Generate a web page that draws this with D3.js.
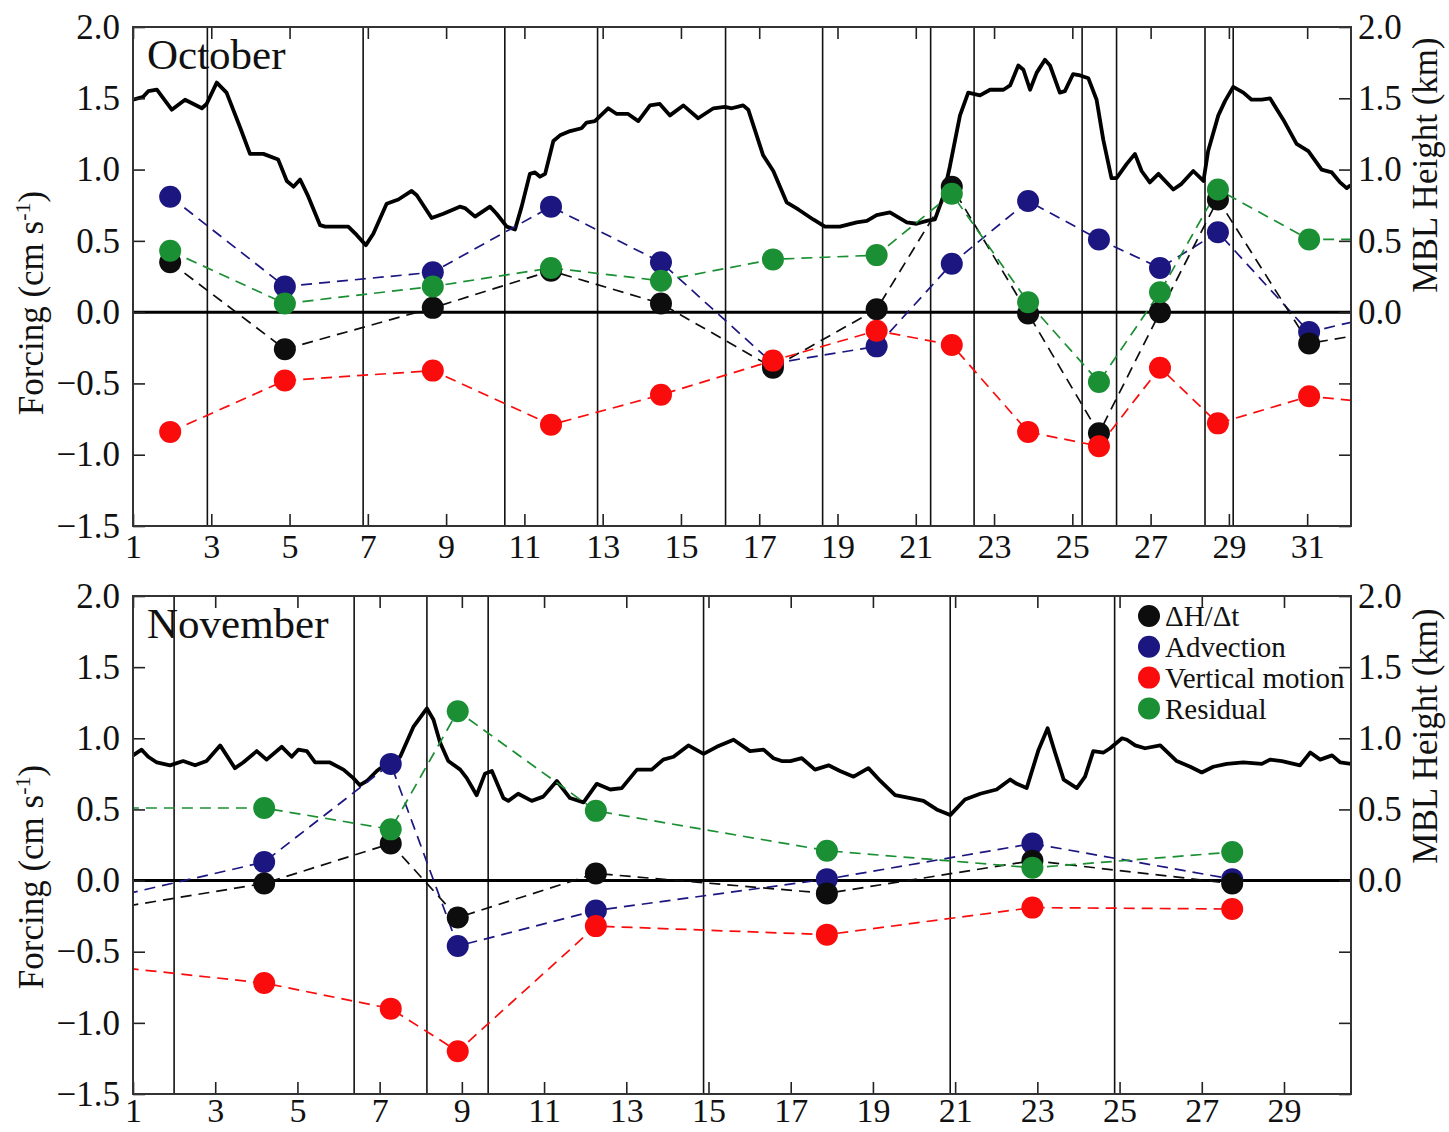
<!DOCTYPE html>
<html><head><meta charset="utf-8">
<script src="https://cdn.jsdelivr.net/npm/d3@7"></script>
<style>
body{margin:0;background:#fff;}
svg{display:block;}
text{font-family:"Liberation Serif","Times New Roman",serif;fill:#111;}
</style>
</head><body>
<svg id="chart" width="1449" height="1132"></svg>
<script>
// ---------- DATA ----------
const seriesNames = ["ΔH/Δt", "Advection", "Vertical motion", "Residual"];
const seriesColors = ["#0d0d0d", "#1b1680", "#fa0c0c", "#1a8f33"];

// October forcing (cm s-1), at mid-points between fronts
const octDays       = [1.95, 4.88, 8.66, 11.68, 14.49, 17.35, 20.00, 21.92, 23.87, 25.68, 27.24, 28.72, 31.05, 34.00];
const octDHDt       = [0.35, -0.26, 0.03, 0.29, 0.06, -0.39, 0.02, 0.88, -0.01, -0.85, 0.00, 0.79, -0.22, -0.08];
const octAdvection  = [0.81, 0.18, 0.28, 0.74, 0.35, -0.36, -0.24, 0.34, 0.78, 0.51, 0.31, 0.56, -0.14, 0.05];
const octVertical   = [-0.84, -0.48, -0.41, -0.79, -0.58, -0.34, -0.13, -0.23, -0.84, -0.94, -0.39, -0.78, -0.59, -0.67];
const octResidual   = [0.43, 0.06, 0.18, 0.31, 0.22, 0.37, 0.40, 0.83, 0.07, -0.49, 0.14, 0.86, 0.51, 0.51];
const octFronts     = [2.90, 6.88, 10.50, 12.87, 16.14, 18.62, 21.38, 22.49, 25.25, 26.13, 28.39, 29.11];
const octMblDays = [1.00,1.26,1.39,1.61,1.99,2.33,2.76,2.88,3.14,3.39,
  3.73,3.99,4.33,4.71,4.93,5.10,5.27,5.48,5.78,5.91,
  6.50,6.72,6.95,7.14,7.48,7.78,8.12,8.25,8.63,8.93,
  9.35,9.48,9.74,10.12,10.29,10.55,10.76,10.93,11.14,11.27,
  11.40,11.53,11.74,11.91,12.17,12.46,12.59,12.80,13.14,13.36,
  13.65,13.91,14.21,14.46,14.72,15.06,15.44,15.83,16.12,16.30,
  16.59,16.72,17.10,17.36,17.70,18.00,18.38,18.68,19.06,19.49,
  19.75,20.00,20.34,20.77,21.02,21.28,21.49,21.70,21.87,22.13,
  22.34,22.64,22.90,23.24,23.41,23.62,23.75,23.92,24.09,24.30,
  24.43,24.68,24.81,25.02,25.20,25.41,25.62,25.79,26.00,26.13,
  26.39,26.60,26.77,26.98,27.20,27.58,27.79,28.09,28.35,28.47,
  28.73,28.90,29.11,29.37,29.58,29.84,30.05,30.39,30.73,31.03,
  31.37,31.63,31.84,32.01,32.11];
const octMblHeight = [1.49,1.51,1.55,1.56,1.42,1.49,1.43,1.46,1.61,1.54,
  1.30,1.11,1.11,1.07,0.92,0.88,0.93,0.81,0.61,0.60,
  0.60,0.54,0.47,0.55,0.76,0.79,0.85,0.82,0.66,0.69,
  0.74,0.73,0.67,0.74,0.69,0.60,0.58,0.74,0.97,0.98,
  0.95,0.97,1.20,1.24,1.27,1.29,1.33,1.34,1.43,1.39,
  1.39,1.34,1.45,1.46,1.38,1.45,1.36,1.43,1.44,1.43,
  1.45,1.42,1.10,0.99,0.77,0.72,0.65,0.60,0.60,0.63,
  0.64,0.68,0.70,0.63,0.62,0.64,0.65,0.81,1.02,1.38,
  1.54,1.52,1.56,1.56,1.59,1.73,1.70,1.56,1.68,1.77,
  1.73,1.54,1.55,1.67,1.66,1.64,1.49,1.21,0.94,0.94,
  1.04,1.11,0.99,0.91,0.97,0.86,0.90,0.99,0.92,1.13,
  1.38,1.48,1.58,1.54,1.49,1.49,1.50,1.35,1.18,1.13,
  1.00,0.98,0.91,0.87,0.89];

// November
const novDays       = [0.00, 4.19, 7.27, 8.90, 12.26, 17.88, 22.88, 27.74];
const novDHDt       = [-0.22, -0.02, 0.26, -0.26, 0.05, -0.09, 0.14, -0.02];
const novAdvection  = [-0.15, 0.13, 0.82, -0.46, -0.21, 0.01, 0.26, 0.01];
const novVertical   = [-0.59, -0.72, -0.90, -1.20, -0.32, -0.38, -0.19, -0.20];
const novResidual   = [0.51, 0.51, 0.36, 1.19, 0.49, 0.21, 0.09, 0.20];
const novFronts     = [2.00, 6.38, 8.15, 9.64, 14.88, 20.88, 24.88];
const novMblDays = [1.00,1.21,1.37,1.58,1.90,2.22,2.51,2.79,3.12,3.48,
  3.68,4.01,4.25,4.62,4.86,5.02,5.23,5.43,5.79,6.12,
  6.36,6.52,6.69,6.93,7.21,7.50,7.82,8.15,8.31,8.47,
  8.67,8.96,9.12,9.36,9.56,9.73,10.01,10.13,10.37,10.70,
  10.98,11.31,11.63,11.96,12.28,12.61,12.89,13.26,13.62,13.90,
  14.15,14.51,14.88,15.20,15.61,16.01,16.34,16.58,16.78,16.99,
  17.27,17.59,17.92,18.20,18.53,18.89,19.18,19.54,19.91,20.23,
  20.55,20.88,21.24,21.61,22.01,22.34,22.50,22.74,23.03,23.25,
  23.43,23.64,23.96,24.16,24.36,24.61,24.77,25.06,25.18,25.38,
  25.62,25.99,26.39,26.72,27.00,27.28,27.61,28.01,28.46,28.66,
  28.95,29.39,29.64,29.88,30.17,30.37,30.63];
const novMblHeight = [0.88,0.92,0.87,0.83,0.81,0.84,0.81,0.84,0.95,0.79,
  0.83,0.91,0.85,0.94,0.87,0.92,0.91,0.83,0.83,0.78,
  0.72,0.67,0.70,0.77,0.83,0.87,1.08,1.21,1.13,0.97,
  0.84,0.78,0.72,0.60,0.75,0.77,0.58,0.56,0.61,0.56,
  0.59,0.70,0.58,0.55,0.68,0.64,0.65,0.78,0.78,0.85,
  0.87,0.95,0.89,0.94,0.99,0.91,0.92,0.86,0.84,0.84,
  0.86,0.78,0.81,0.77,0.73,0.79,0.70,0.60,0.58,0.56,
  0.50,0.46,0.57,0.61,0.64,0.71,0.68,0.65,0.92,1.07,
  0.90,0.71,0.65,0.73,0.91,0.90,0.93,1.00,0.99,0.95,
  0.93,0.95,0.84,0.80,0.76,0.80,0.82,0.83,0.82,0.85,
  0.84,0.81,0.90,0.85,0.88,0.83,0.82];

const octTicks = d3.range(1, 32, 2);
const novTicks = d3.range(1, 30, 2);
const yTicks = [-1.5, -1.0, -0.5, 0.0, 0.5, 1.0, 1.5, 2.0];

// ---------- DRAW ----------
const svg = d3.select("#chart");
const L = 133, R = 1351;
const FONT = '"Liberation Serif","Times New Roman",serif';
const fmt = d3.format(".1f");

const panels = [
  {name: "October", top: 27, bottom: 526, xDomain: [1, 32.12], ticks: octTicks,
   days: octDays, series: [octDHDt, octAdvection, octVertical, octResidual],
   fronts: octFronts, mblDays: octMblDays, mbl: octMblHeight, legend: false,
   ylabY: 303, rlabY: 165, xPad: 8},
  {name: "November", top: 596, bottom: 1094, xDomain: [1, 30.63], ticks: novTicks,
   days: novDays, series: [novDHDt, novAdvection, novVertical, novResidual],
   fronts: novFronts, mblDays: novMblDays, mbl: novMblHeight, legend: true,
   ylabY: 877, rlabY: 736, xPad: 4}
];

panels.forEach((p, pi) => {
  const x = d3.scaleLinear().domain(p.xDomain).range([L, R]);
  const y = d3.scaleLinear().domain([-1.5, 2]).range([p.bottom, p.top]);
  const g = svg.append("g");
  const clipId = "clip" + pi;
  g.append("clipPath").attr("id", clipId).append("rect")
    .attr("x", L).attr("y", p.top).attr("width", R - L).attr("height", p.bottom - p.top);
  const inner = g.append("g").attr("clip-path", `url(#${clipId})`);

  // front lines
  inner.selectAll("line.front").data(p.fronts).join("line")
    .attr("class", "front")
    .attr("x1", d => x(d)).attr("x2", d => x(d))
    .attr("y1", p.top).attr("y2", p.bottom)
    .attr("stroke", "#111").attr("stroke-width", 1.6);

  // zero line
  inner.append("line").attr("x1", L).attr("x2", R).attr("y1", y(0)).attr("y2", y(0))
    .attr("stroke", "#000").attr("stroke-width", 3);

  // MBL height
  const mblPts = p.mblDays.map((d, i) => [d, p.mbl[i]]);
  inner.append("path").datum(mblPts)
    .attr("d", d3.line().x(d => x(d[0])).y(d => y(d[1])))
    .attr("fill", "none").attr("stroke", "#000").attr("stroke-width", 3.8)
    .attr("stroke-linejoin", "round");

  // forcing series: draw order blue, black, red, green
  const order = [1, 0, 2, 3];
  order.forEach(si => {
    const pts = p.days.map((d, i) => [d, p.series[si][i]]);
    inner.append("path").datum(pts)
      .attr("d", d3.line().x(d => x(d[0])).y(d => y(d[1])))
      .attr("fill", "none").attr("stroke", seriesColors[si]).attr("stroke-width", 1.7)
      .attr("stroke-dasharray", "11,7");
  });
  order.forEach(si => {
    const pts = p.days.map((d, i) => [d, p.series[si][i]]);
    inner.selectAll(null).data(pts).join("circle")
      .attr("cx", d => x(d[0])).attr("cy", d => y(d[1])).attr("r", 11)
      .attr("fill", seriesColors[si]);
  });

  // axes
  const styleAxis = sel => {
    sel.attr("font-size", 35).attr("font-family", FONT).attr("color", "#222");
    sel.select(".domain").remove();
    sel.selectAll(".tick line").attr("stroke-width", 1.6);
    sel.selectAll("text").attr("fill", "#111");
  };
  g.append("g").attr("transform", `translate(0,${p.bottom})`)
    .call(d3.axisBottom(x).tickValues(p.ticks).tickSizeInner(-12).tickSizeOuter(0).tickPadding(p.xPad).tickFormat(d3.format("d")))
    .call(styleAxis)
    .attr("font-size", 34);
  g.append("g").attr("transform", `translate(0,${p.top})`)
    .call(d3.axisTop(x).tickValues(p.ticks).tickSizeInner(-12).tickSizeOuter(0).tickFormat(""))
    .call(styleAxis);
  g.append("g").attr("transform", `translate(${L},0)`)
    .call(d3.axisLeft(y).tickValues(yTicks).tickSizeInner(-12).tickSizeOuter(0).tickPadding(13).tickFormat(fmt))
    .call(styleAxis);
  g.append("g").attr("transform", `translate(${R},0)`)
    .call(d3.axisRight(y).tickValues(yTicks).tickSizeInner(-12).tickSizeOuter(0).tickPadding(7)
      .tickFormat(d => d >= 0 ? fmt(d) : ""))
    .call(styleAxis);

  // frame
  g.append("rect").attr("x", L).attr("y", p.top).attr("width", R - L).attr("height", p.bottom - p.top)
    .attr("fill", "none").attr("stroke", "#333").attr("stroke-width", 2);

  // panel label
  g.append("text").attr("x", 147).attr("y", p.top + 42).attr("font-size", 43).text(p.name);

  // y labels
  const yl = g.append("text").attr("transform", `translate(43,${p.ylabY}) rotate(-90)`)
    .attr("text-anchor", "middle").attr("font-size", 35);
  yl.append("tspan").text("Forcing (cm s");
  yl.append("tspan").attr("font-size", 22).attr("dy", -13).text("-1");
  yl.append("tspan").attr("dy", 13).text(")");

  g.append("text").attr("transform", `translate(1437,${p.rlabY}) rotate(-90)`)
    .attr("text-anchor", "middle").attr("font-size", 35).text("MBL Height (km)");

  // legend
  if (p.legend) {
    const lg = g.append("g");
    seriesNames.forEach((n, i) => {
      const ly = 616 + i * 30.8;
      lg.append("circle").attr("cx", 1149).attr("cy", ly).attr("r", 11).attr("fill", seriesColors[i]);
      lg.append("text").attr("x", 1165).attr("y", ly).attr("dy", "0.35em").attr("font-size", 29).text(n);
    });
  }
});
</script>
</body></html>
